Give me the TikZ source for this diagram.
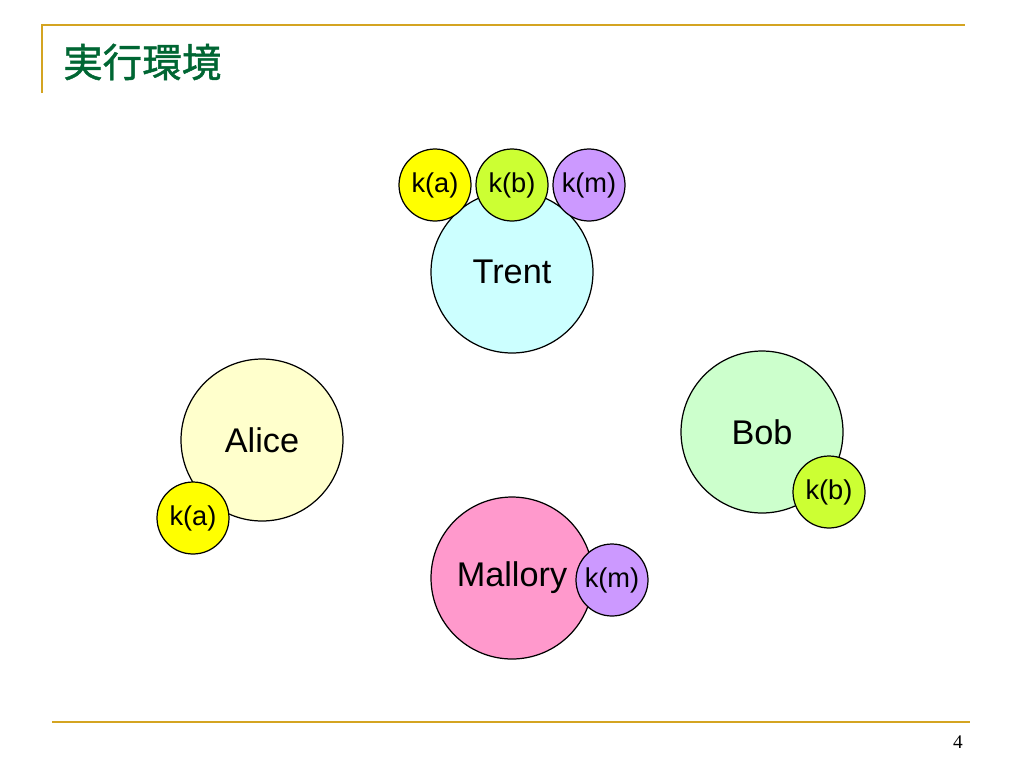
\documentclass[tikz,border=0pt]{standalone}
\usepackage{fontspec}
\setmainfont{Liberation Sans}
\newfontfamily\cjkfont[FakeBold=1.2]{Noto Sans CJK JP}
\newfontfamily\pagefont{Liberation Serif}
\usetikzlibrary{math}

\definecolor{rulegold}{HTML}{D4A421}
\definecolor{titlegreen}{HTML}{006633}
\definecolor{trentfill}{HTML}{CCFFFF}
\definecolor{alicefill}{HTML}{FFFFCC}
\definecolor{bobfill}{HTML}{CCFFCC}
\definecolor{malloryfill}{HTML}{FF99CC}
\definecolor{kafill}{HTML}{FFFF00}
\definecolor{kbfill}{HTML}{CCFF33}
\definecolor{kmfill}{HTML}{CC99FF}

\begin{document}
\begin{tikzpicture}[x=0.02cm, y=-0.02cm,
  person/.style={circle, draw, line width=0.7pt, inner sep=0pt, minimum size=3.24cm, font=\fontsize{19.5}{22}\selectfont},
  key/.style={circle, draw, line width=0.7pt, inner sep=0pt, minimum size=1.44cm, font=\fontsize{15.5}{18}\selectfont},
  rule/.style={rulegold, line width=1.6pt}]
  \tikzmath{%
    \tx = 512; \ty = 272;
    \ax = 262; \ay = 440;
    \bx = 762; \by = 432;
    \mx = 512; \my = 578;
  }

  \useasboundingbox (0,0) rectangle (1024,768);

  % slide frame
  \coordinate (ruletl) at (42,25);
  \coordinate (ruletr) at (965,25);
  \coordinate (rulebar) at (42,93);
  \coordinate (rulebl) at (52,722);
  \coordinate (rulebr) at (970,722);
  \draw[rule] (rulebar) -- (ruletl) -- (ruletr);
  \draw[rule] (rulebl) -- (rulebr);
  \node[anchor=west, text=titlegreen, font=\cjkfont\fontsize{22.5}{26}\selectfont] (title) at (57,62) {実行環境};
  \node[font=\pagefont\fontsize{11}{13}\selectfont] (pagenum) at (958,742) {4};

  % people
  \node[person, fill=trentfill] (trent) at (\tx,\ty) {Trent};
  \node[person, fill=alicefill] (alice) at (\ax,\ay) {Alice};
  \node[person, fill=bobfill] (bob) at (\bx,\by) {Bob};
  \node[person, fill=malloryfill] (mallory) at (\mx,\my) {Mallory};

  % keys
  \node[key, fill=kafill] (trentka) at (\tx-77,185) {k(a)};
  \node[key, fill=kbfill] (trentkb) at (\tx,185) {k(b)};
  \node[key, fill=kmfill] (trentkm) at (\tx+77,185) {k(m)};
  \node[key, fill=kafill] (aliceka) at (\ax-69,\ay+78) {k(a)};
  \node[key, fill=kbfill] (bobkb) at (\bx+67,\by+60) {k(b)};
  \node[key, fill=kmfill] (mallorykm) at (\mx+100,\my+2) {k(m)};
\end{tikzpicture}
\end{document}
